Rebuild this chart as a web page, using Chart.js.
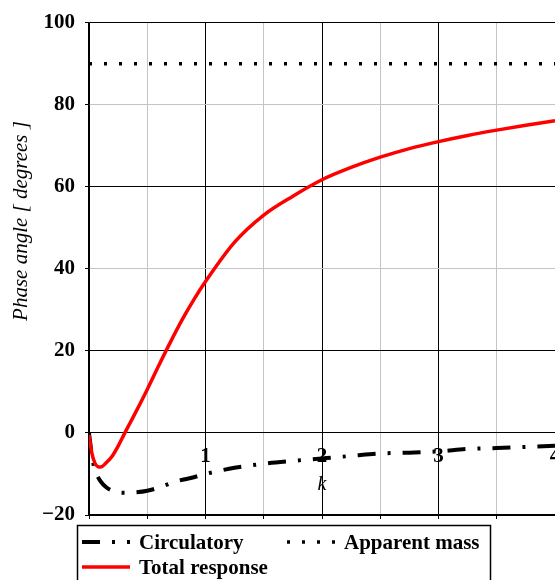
<!DOCTYPE html>
<html>
<head>
<meta charset="utf-8">
<title>Phase angle</title>
<script src="https://cdn.jsdelivr.net/npm/chart.js@4.4.1/dist/chart.umd.min.js"></script>
<style>
  html, body { margin: 0; padding: 0; background: #fff; }
</style>
</head>
<body>
<canvas id="phaseChart" width="555" height="580"></canvas>
<script>
// Values
const totalK = [0, 0.025, 0.05, 0.075, 0.1, 0.15, 0.2, 0.25, 0.3, 0.35, 0.4, 0.5, 0.6, 0.7, 0.8, 0.9, 1.0, 1.25, 1.5, 1.75, 2.0, 2.25, 2.5, 2.75, 3.0, 3.25, 3.5, 3.75, 4.0];
const totalResponse = [-0.5, -5, -7.3, -8.2, -8.3, -7.2, -5.6, -3.2, -0.4, 2.3, 5.0, 10.6, 16.5, 22.2, 27.6, 32.5, 36.9, 46.5, 53.1, 57.7, 61.7, 64.7, 67.2, 69.3, 71.0, 72.5, 73.8, 75.0, 76.1];

const circK = [0, 0.025, 0.05, 0.1, 0.15, 0.2, 0.25, 0.3, 0.4, 0.5, 0.6, 0.75, 0.9, 1.0, 1.25, 1.5, 1.75, 2.0, 2.25, 2.5, 2.75, 3.0, 3.25, 3.5, 3.75, 4.0];
const circulatory = [0, -5.5, -8.9, -11.8, -13.3, -14.1, -14.5, -14.6, -14.5, -14.1, -13.3, -11.8, -10.8, -10, -8.5, -7.5, -6.8, -6.2, -5.6, -5, -4.8, -4.5, -3.9, -3.7, -3.4, -3.1];

const apparentK = [0, 4];
const apparentMass = [90, 90];

const xLabels = [1, 2, 3, 4];
const xTitle = "k";
const yTitle = "Phase angle [ degrees ]";
const legendNames = ["Circulatory", "Apparent mass", "Total response"];

const serif = '"Liberation Serif", "Times New Roman", serif';

function toPoints(xs, ys) {
  return xs.map((x, i) => ({ x: x, y: ys[i] }));
}

// k labels sit on the zero line, not at the bottom of the plot
const axisLabels = {
  id: "axisLabels",
  beforeDatasetsDraw(chart) {
    const ctx = chart.ctx;
    const xs = chart.scales.x;
    const ys = chart.scales.y;
    const zero = ys.getPixelForValue(0);
    ctx.save();
    ctx.fillStyle = "#000";
    ctx.font = "bold 21px " + serif;
    ctx.textAlign = "center";
    ctx.textBaseline = "alphabetic";
    xLabels.forEach((v) => {
      ctx.fillText(String(v), xs.getPixelForValue(v), zero + 29);
    });
    ctx.font = "italic 20px " + serif;
    ctx.fillText(xTitle, xs.getPixelForValue(2), zero + 57);

    // y title
    ctx.translate(21, 221);
    ctx.rotate(-Math.PI / 2);
    ctx.font = "italic 21px " + serif;
    ctx.textBaseline = "middle";
    ctx.fillText(yTitle, 0, 0);
    ctx.restore();
  }
};

// boxed legend under the plot
const legendBox = {
  id: "legendBox",
  afterDraw(chart) {
    const ctx = chart.ctx;
    const sets = chart.data.datasets;
    ctx.save();
    ctx.strokeStyle = "#000";
    ctx.lineWidth = 1.5;
    ctx.strokeRect(77.5, 525.5, 413, 80);

    const rows = [
      { ds: 0, x: 82, y: 549 },
      { ds: 1, x: 287, y: 549 },
      { ds: 2, x: 82, y: 574 }
    ];
    rows.forEach((r) => {
      const d = sets[r.ds];
      ctx.beginPath();
      ctx.setLineDash(d.borderDash || []);
      ctx.lineWidth = d.borderWidth;
      ctx.strokeStyle = d.borderColor;
      ctx.moveTo(r.x, r.y - 7);
      ctx.lineTo(r.x + 48, r.y - 7);
      ctx.stroke();
      ctx.setLineDash([]);
      ctx.fillStyle = "#000";
      ctx.font = "bold 21px " + serif;
      ctx.textAlign = "left";
      ctx.textBaseline = "alphabetic";
      ctx.fillText(legendNames[r.ds], r.x + 57, r.y);
    });
    ctx.restore();
  }
};

const ctx = document.getElementById("phaseChart").getContext("2d");
const chart = new Chart(ctx, {
  type: "line",
  data: {
    datasets: [
      {
        label: legendNames[0],
        data: toPoints(circK, circulatory),
        borderColor: "#000",
        borderWidth: 4,
        borderDash: [18, 12, 3, 12],
        pointRadius: 0,
        cubicInterpolationMode: "monotone",
        order: 1
      },
      {
        label: legendNames[1],
        data: toPoints(apparentK, apparentMass),
        borderColor: "#000",
        borderWidth: 3.5,
        borderDash: [3, 12],
        pointRadius: 0,
        order: 1
      },
      {
        label: legendNames[2],
        data: toPoints(totalK, totalResponse),
        borderColor: "#ff0000",
        borderWidth: 3.5,
        pointRadius: 0,
        cubicInterpolationMode: "monotone",
        order: 0
      }
    ]
  },
  options: {
    responsive: false,
    animation: false,
    layout: { padding: { top: 17, right: 0, bottom: 61, left: 0 } },
    plugins: {
      legend: { display: false },
      tooltip: { enabled: false }
    },
    scales: {
      x: {
        type: "linear",
        min: 0,
        max: 4,
        ticks: { stepSize: 0.5, display: false },
        grid: {
          color: (c) => (c.tick && c.tick.value % 1 === 0 ? "#000" : "#c4c4c4"),
          tickColor: "#000",
          tickLength: 4
        },
        border: { color: "#000", width: 1.5 }
      },
      y: {
        min: -20,
        max: 100,
        ticks: {
          stepSize: 20,
          color: "#000",
          padding: 10,
          font: { family: serif, size: 21, weight: "bold" },
          callback: (v) => String(v).replace("-", "\u2212")
        },
        grid: {
          color: (c) => (c.tick && (c.tick.value === 80 || c.tick.value === 40) ? "#c4c4c4" : "#000"),
          tickColor: "#000",
          tickLength: 4
        },
        border: { color: "#000", width: 1.5 },
        afterFit(scale) {
          scale.width = 89;
        }
      }
    }
  },
  plugins: [axisLabels, legendBox]
});
</script>
</body>
</html>
